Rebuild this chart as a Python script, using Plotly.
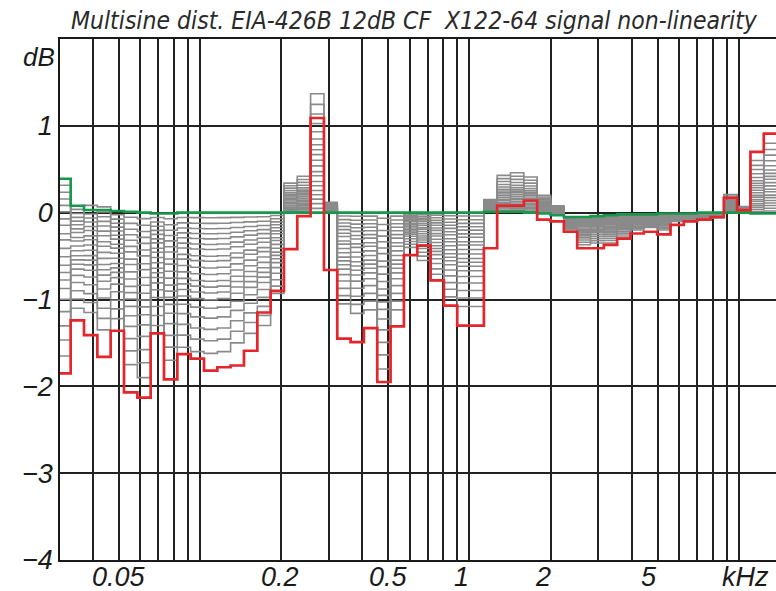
import math
import plotly.graph_objects as go

# ---- data ----
# 1/6-octave-like analysis band edges (kHz); first band starts left of the visible axis
band_edges_khz = [0.0296, 0.03313, 0.03712, 0.04160, 0.04662, 0.05224, 0.05855, 0.06561, 0.07352, 0.08239, 0.09232,
                  0.1035, 0.1160, 0.1299, 0.1456, 0.1632, 0.1829, 0.2049, 0.2296, 0.2573, 0.2884,
                  0.3231, 0.3622, 0.4058, 0.4547, 0.5095, 0.5710, 0.6400, 0.7171, 0.8036, 0.9006,
                  1.009, 1.131, 1.267, 1.420, 1.591, 1.783, 1.999, 2.240, 2.510, 2.812,
                  3.152, 3.532, 3.958, 4.436, 4.970, 5.570, 6.243, 6.995, 7.840, 8.785,
                  9.845, 11.03, 12.36, 13.86]

# highest level (red) per band, dB
red_db = [-1.85, -1.24, -1.41, -1.66, -1.36, -2.07, -2.13, -1.39, -1.92, -1.63,
          -1.68, -1.82, -1.78, -1.76, -1.59, -1.15, -0.90, -0.42, -0.04, 1.09,
          -0.66, -1.45, -1.49, -1.33, -1.95, -1.31, -0.49, -0.38, -0.78, -1.07,
          -1.30, -1.30, -0.41, 0.08, 0.08, 0.14, -0.08, -0.10, -0.22, -0.41,
          -0.41, -0.37, -0.30, -0.24, -0.22, -0.25, -0.14, -0.10, -0.08, -0.05,
          0.17, 0.03, 0.70, 0.91]

# lowest level (green) per band, dB
green_db = [0.39, 0.08, 0.03, 0.03, 0.02, 0.01, 0.0, -0.01, -0.01, 0.0,
            0.0, 0.0, 0.0, 0.0, 0.0, 0.0, 0.0, 0.0, 0.0, 0.0,
            0.0, 0.0, 0.0, 0.0, 0.0, 0.0, 0.0, 0.0, 0.0, 0.0,
            0.0, 0.0, 0.01, 0.01, 0.01, 0.0, -0.01, -0.03, -0.05, -0.05,
            -0.04, -0.03, -0.02, -0.02, -0.02, -0.01, -0.01, -0.01, 0.0, 0.0,
            0.0, 0.0, -0.01, -0.01]

# intermediate levels (grey fan): innermost and outermost grey line per band, dB
gray_inner_db = [0.39, 0.08, 0.13, 0.12, 0.02, 0.01, 0.0, -0.01, -0.01, 0.0,
                 0.0, 0.0, 0.0, 0.0, 0.0, 0.0, 0.0, 0.0, 0.0, 0.0,
                 0.0, 0.0, 0.0, 0.0, 0.0, 0.0, 0.0, 0.0, 0.0, 0.0,
                 0.0, 0.0, 0.01, 0.01, 0.01, 0.0, -0.01, -0.03, -0.05, -0.05,
                 -0.04, -0.03, -0.02, -0.02, -0.02, -0.01, -0.01, -0.01, 0.0, 0.0,
                 0.0, 0.0, -0.01, -0.01]
gray_outer_db = [-1.65, -1.10, -1.15, -1.35, -1.22, -1.75, -1.90, -1.30, -1.70, -1.55,
                 -1.60, -1.62, -1.60, -1.50, -1.39, -1.30, -0.93, 0.34, 0.42, 1.37,
                 0.12, -1.05, -1.16, -1.12, -1.80, -1.12, -0.40, -0.55, -0.78, -0.97,
                 -1.08, -1.08, 0.15, 0.43, 0.46, 0.41, 0.20, 0.08, -0.20, -0.37,
                 -0.35, -0.35, -0.28, -0.20, -0.17, -0.20, -0.10, -0.10, -0.08, -0.06,
                 0.21, 0.07, 0.60, 0.80]
# relative position of each grey level line inside the fan (read in the 0.1 kHz band)
gray_level_position = [0.036, 0.076, 0.114, 0.150, 0.186, 0.226, 0.262, 0.310, 0.345, 0.393,
                       0.440, 0.488, 0.529, 0.571, 0.619, 0.680, 0.750, 0.830, 0.910, 1.0]

grid_freqs_khz = [0.04, 0.05, 0.06, 0.07, 0.08, 0.09, 0.1, 0.2, 0.3, 0.4, 0.5, 0.6, 0.7, 0.8, 0.9,
                  1, 2, 3, 4, 5, 6, 7, 8, 9, 10]
x_labels = ["0.05", "0.2", "0.5", "1", "2", "5"]
x_label_vals = [0.05, 0.2, 0.5, 1, 2, 5]
x_label_shift = [0, -1, 0, -8, -8, -9]
y_ticks = [-4, -3, -2, -1, 0, 1]
y_labels = ["\u22124", "\u22123", "\u22122", "\u22121", "0", "1"]

title_left = "Multisine dist. EIA-426B 12dB CF"
title_right = "X122-64 signal non-linearity"

# ---- figure ----
fig = go.Figure()

def step_y(vals):
    return list(vals) + [vals[-1]]

for pos in gray_level_position:
    gy = [a + pos * (b - a) for a, b in zip(gray_inner_db, gray_outer_db)]
    fig.add_trace(go.Scatter(x=band_edges_khz, y=step_y(gy), mode="lines",
                             line=dict(color="#8a8a8a", width=1.6, shape="hv"),
                             hoverinfo="skip", showlegend=False))

fig.add_trace(go.Scatter(x=band_edges_khz, y=step_y(green_db), mode="lines",
                         line=dict(color="#16984a", width=2.6, shape="hv"),
                         showlegend=False))
fig.add_trace(go.Scatter(x=band_edges_khz, y=step_y(red_db), mode="lines",
                         line=dict(color="#e3262b", width=2.7, shape="hv"),
                         showlegend=False))

tick_font = dict(family="Liberation Sans, Arial, sans-serif", size=27, color="#1a1a1a", style="italic")

fig.update_xaxes(type="log", range=[math.log10(0.03024), math.log10(13.72)],
                 tickvals=grid_freqs_khz, ticktext=[""] * len(grid_freqs_khz),
                 showgrid=True, gridcolor="#222222", gridwidth=1.6,
                 showline=True, linecolor="#1a1a1a", linewidth=1.8, mirror=True,
                 ticks="", zeroline=False)
fig.update_yaxes(range=[-4, 2], tickvals=y_ticks, ticktext=y_labels,
                 showgrid=True, gridcolor="#222222", gridwidth=1.6,
                 showline=True, linecolor="#1a1a1a", linewidth=1.8, mirror=False,
                 ticks="", zeroline=False, tickfont=tick_font)

annotations = []
for lab, v, sh in zip(x_labels, x_label_vals, x_label_shift):
    annotations.append(dict(x=math.log10(v), xref="x", y=0, yref="paper", yanchor="top",
                            xanchor="center", xshift=sh, yshift=0, text=lab, showarrow=False,
                            font=tick_font))
annotations.append(dict(x=(771 - 60) / 716, xref="paper", y=0, yref="paper", yanchor="top", xanchor="right",
                        yshift=0, text="kHz", showarrow=False, font=tick_font))
annotations.append(dict(x=0, xref="paper", y=1, yref="paper", xanchor="right", yanchor="top",
                        xshift=-3, yshift=-1, text="dB", showarrow=False,
                        font=dict(family="Liberation Sans, Arial, sans-serif", size=26,
                                  color="#1a1a1a", style="italic")))
title_font = dict(family="Liberation Sans Narrow, DejaVu Sans Condensed, Arial Narrow, sans-serif",
                  size=24.5, color="#2a2a2a", style="italic")
annotations.append(dict(x=(69 - 60) / 716, xref="paper", y=1, yref="paper", xanchor="left", yanchor="middle",
                        yshift=19, text=title_left, showarrow=False, font=title_font))
annotations.append(dict(x=(760 - 60) / 716, xref="paper", y=1, yref="paper", xanchor="right", yanchor="middle",
                        yshift=19, text=title_right, showarrow=False, font=title_font))

fig.update_layout(width=776, height=591, margin=dict(l=60, r=0, t=39, b=31),
                  plot_bgcolor="white", paper_bgcolor="white",
                  annotations=annotations, showlegend=False)

fig.write_html("out.html", config={"displayModeBar": False},
               post_script="document.body.style.margin='0';document.body.style.overflow='hidden';")
